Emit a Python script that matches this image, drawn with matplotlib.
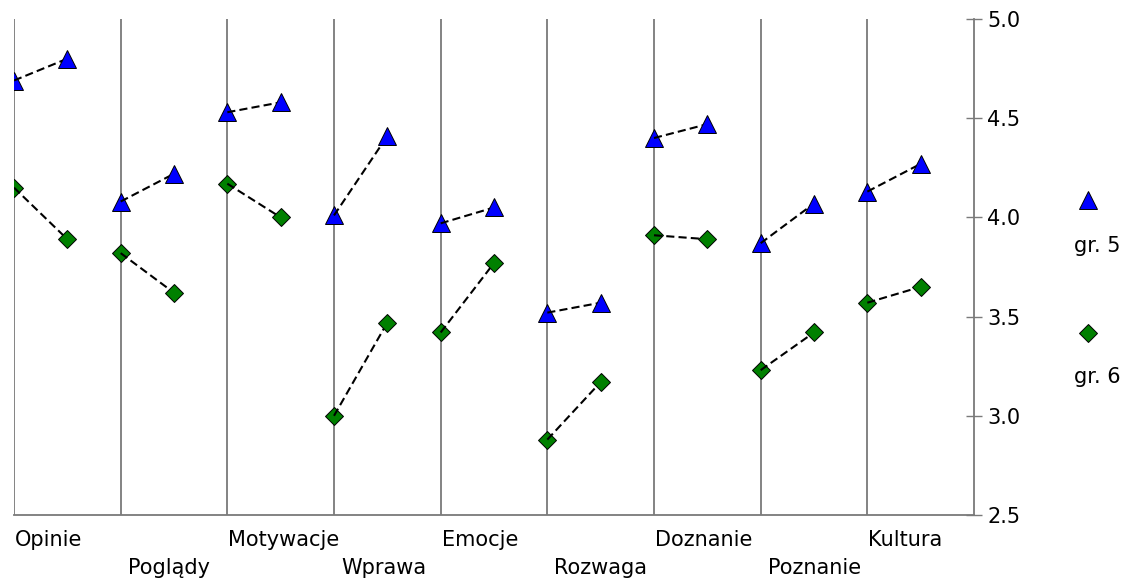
import matplotlib
matplotlib.use("Agg")
import matplotlib.pyplot as plt
from matplotlib.lines import Line2D

plt.rcParams['font.family'] = ['DejaVu Sans']

categories = ["Opinie", "Poglądy", "Motywacje", "Wprawa", "Emocje",
              "Rozwaga", "Doznanie", "Poznanie", "Kultura"]

# group 5: value at the category line and at the half-step point
gr5_first = [4.69, 4.08, 4.53, 4.01, 3.97, 3.52, 4.40, 3.87, 4.13]
gr5_second = [4.80, 4.22, 4.58, 4.41, 4.05, 3.57, 4.47, 4.07, 4.27]

# group 6
gr6_first = [4.15, 3.82, 4.17, 3.00, 3.42, 2.88, 3.91, 3.23, 3.57]
gr6_second = [3.89, 3.62, 4.00, 3.47, 3.77, 3.17, 3.89, 3.42, 3.65]

series_labels = ["gr. 5", "gr. 6"]
y_ticks = [2.5, 3.0, 3.5, 4.0, 4.5, 5.0]

BLUE = "#0000ff"
GREEN = "#008000"
GRID = "#7a7a7a"

fig = plt.figure(figsize=(11.27, 5.78), dpi=100)
ax = fig.add_axes([14 / 1127, 1 - 515 / 578, 960 / 1127, 496 / 578])
ax.set_xlim(0, len(categories))
ax.set_ylim(y_ticks[0], y_ticks[-1])

# vertical category lines
for i in range(len(categories)):
    ax.plot([i, i], [y_ticks[0], y_ticks[-1]], color=GRID, lw=1.3, zorder=1,
            solid_capstyle='butt')

styles = [
    (gr5_first, gr5_second, '^', BLUE, 13.5),
    (gr6_first, gr6_second, 'D', GREEN, 9.5),
]
for first, second, marker, color, ms in styles:
    for i, (a, b) in enumerate(zip(first, second)):
        ax.plot([i], [a], linestyle='none', marker=marker, ms=ms,
                mfc=color, mec='black', mew=0.7, zorder=3)
        ax.plot([i, i + 0.5], [a, b], linestyle=(0, (3.9, 2.0)),
                color='black', lw=1.5, zorder=4)
        ax.plot([i + 0.5], [b], linestyle='none', marker=marker, ms=ms,
                mfc=color, mec='black', mew=0.7, zorder=5)

# spines and right-hand value axis
for side in ['left', 'top']:
    ax.spines[side].set_visible(False)
for side in ['right', 'bottom']:
    ax.spines[side].set_color(GRID)
    ax.spines[side].set_linewidth(1.3)
ax.yaxis.tick_right()
ax.set_yticks(y_ticks)
ax.set_yticklabels([f"{t:.1f}" for t in y_ticks])
ax.tick_params(axis='y', direction='inout', length=12, width=1.0,
               color=GRID, pad=3.6, labelsize=15, labelcolor='black')
ax.set_xticks([])

# category labels on two staggered rows
for i, name in enumerate(categories):
    if i % 2 == 0:
        off = (1, -31)
    else:
        off = (7, -59)
    ax.annotate(name, xy=(i, 0), xycoords=('data', 'axes fraction'),
                xytext=off, textcoords='offset pixels',
                ha='left', va='baseline', fontsize=15, color='black',
                annotation_clip=False)

# legend: marker above its label
leg_x = 1.119
for (marker, color, ms), lab, my, ty in zip(
        [('^', BLUE, 13.5), ('D', GREEN, 9.5)], series_labels,
        [0.635, 0.367], [0.530, 0.266]):
    fig.add_artist(Line2D([leg_x], [my], transform=ax.transAxes,
                          linestyle='none', marker=marker, ms=ms,
                          mfc=color, mec='black', mew=0.7))
    ax.text(1.128, ty, lab, transform=ax.transAxes, ha='center',
            va='baseline', fontsize=15, color='black', clip_on=False)

fig.savefig("out.png", dpi=100)
